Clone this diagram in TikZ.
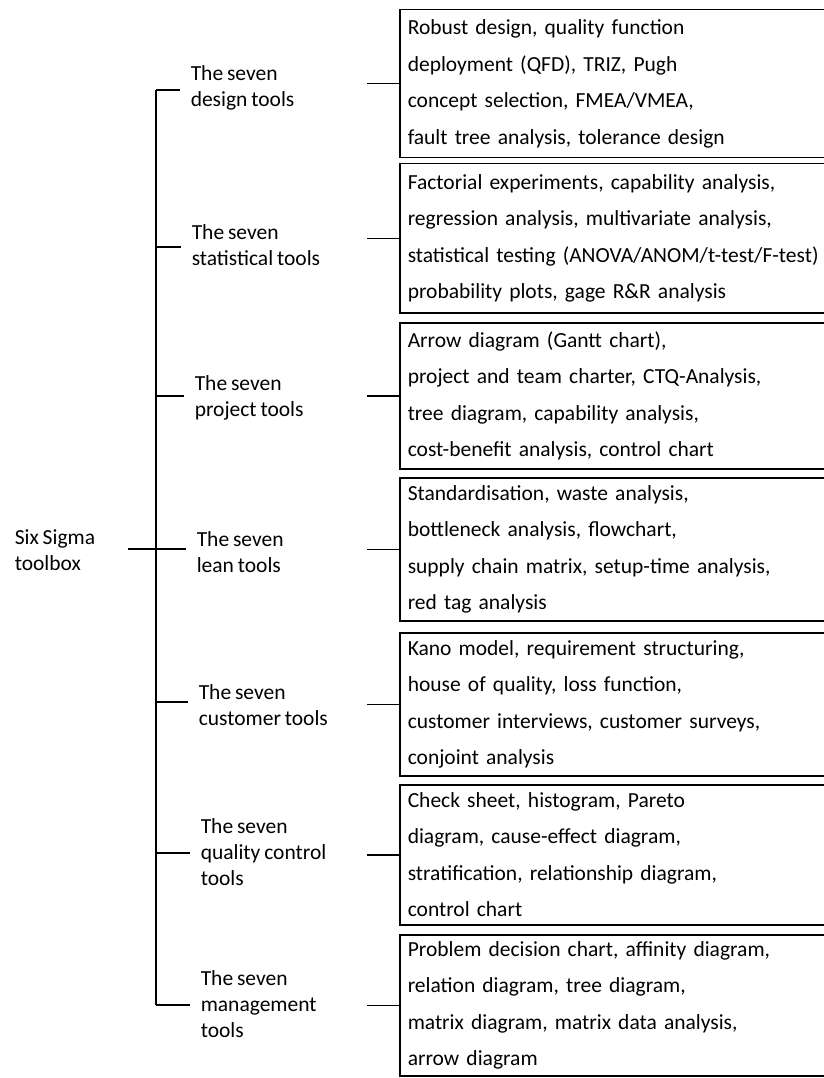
\documentclass[tikz,border=0pt]{standalone}
\usepackage{fontspec}
\setmainfont[WordSpace=0.8]{Carlito}
\begin{document}
\begin{tikzpicture}[x=1pt,y=-1pt,line width=1.5pt,
  lbl/.style={anchor=west,align=left,inner sep=0pt,font=\fontsize{21.5}{26}\selectfont},
  tbox/.style={draw,anchor=north west,minimum width=427pt,text width=411pt,align=left,
    inner xsep=8pt,inner ysep=0pt,font=\fontsize{21.5}{36.5}\selectfont},
  conn/.style={line width=1.5pt}]
\useasboundingbox (0,0) rectangle (823,1078);
\fill[white] (0,0) rectangle (823,1078);

% root
\node[lbl] (root) at (14,550) {Six Sigma\\toolbox};
\coordinate (rootR) at (128,549);
\coordinate (tTop) at (156,90);
\coordinate (tBot) at (156,1005);
\coordinate (tMid) at (156,549);
\draw[conn] (tTop) -- (tBot);
\draw[conn] (rootR) -- (tMid);

% labels
\node[lbl] (l1) at (190,88) {The seven\\design tools};
\node[lbl] (l2) at (191,245) {The seven\\statistical tools};
\node[lbl] (l3) at (194,398) {The seven\\project tools};
\node[lbl] (l4) at (196,552) {The seven\\lean tools};
\node[lbl] (l5) at (198,705) {The seven\\customer tools};
\node[lbl] (l6) at (200,852) {The seven\\quality control\\tools};
\node[lbl] (l7) at (200,1004) {The seven\\management\\tools};

% boxes
\node[tbox,minimum height=148pt] (b1) at (399,9)
  {Robust design, quality function\\deployment (QFD), TRIZ, Pugh\\concept selection, FMEA/VMEA,\\fault tree analysis, tolerance design};
\node[tbox,minimum height=149pt] (b2) at (399,163)
  {Factorial experiments, capability analysis,\\regression analysis, multivariate analysis,\\\mbox{statistical testing (ANOVA/ANOM/t-test/F-test)}\\probability plots, gage R\&R analysis};
\node[tbox,minimum height=146pt] (b3) at (399,322)
  {Arrow diagram (Gantt chart),\\project and team charter, CTQ-Analysis,\\tree diagram, capability analysis,\\cost-benefit analysis, control chart};
\node[tbox,minimum height=143pt] (b4) at (399,477)
  {Standardisation, waste analysis,\\bottleneck analysis, flowchart,\\supply chain matrix, setup-time analysis,\\red tag analysis};
\node[tbox,minimum height=143pt] (b5) at (399,632)
  {Kano model, requirement structuring,\\house of quality, loss function,\\customer interviews, customer surveys,\\conjoint analysis};
\node[tbox,minimum height=140pt] (b6) at (399,784)
  {Check sheet, histogram, Pareto\\diagram, cause-effect diagram,\\stratification, relationship diagram,\\control chart};
\node[tbox,minimum height=141pt] (b7) at (399,934)
  {Problem decision chart, affinity diagram,\\relation diagram, tree diagram,\\matrix diagram, matrix data analysis,\\arrow diagram};

% branches from trunk to labels
\foreach \i/\y in {1/90,2/247,3/396,4/549,5/702,6/853,7/1005}{
  \coordinate (br\i) at (156,\y);
  \draw[conn] (br\i) -- ([xshift=-10pt]l\i.west |- br\i);
}
% connectors from labels to boxes
\foreach \i in {1,...,7}{
  \coordinate (cs\i) at (367,0);
  \draw[conn] (cs\i |- b\i.west) -- (b\i.west);
}
\end{tikzpicture}
\end{document}
